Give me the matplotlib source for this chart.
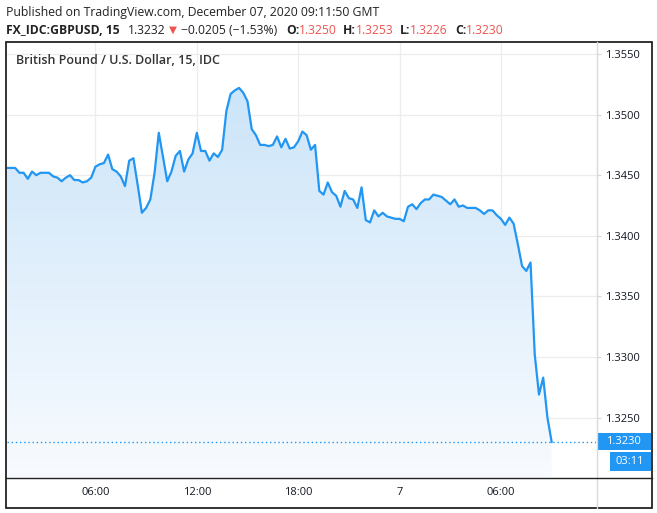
import matplotlib
matplotlib.use("Agg")
import matplotlib.pyplot as plt
import numpy as np
from matplotlib.patches import Rectangle, Polygon
from matplotlib.lines import Line2D

plt.rcParams['font.family'] = ['Open Sans', 'DejaVu Sans']

# ---- data (15-minute closes, GBP/USD) ----
closes = [
    1.3456, 1.3456, 1.3456, 1.3452, 1.3452, 1.3447, 1.3453, 1.3450, 1.3452, 1.3452,
    1.3452, 1.3449, 1.3448, 1.3445, 1.3448, 1.3450, 1.3446, 1.3446, 1.3444, 1.3445,
    1.3448, 1.3457, 1.3459, 1.3460, 1.3467, 1.3455, 1.3453, 1.3449, 1.3441, 1.3462,
    1.3464, 1.3442, 1.3419, 1.3423, 1.3430, 1.3452, 1.3485, 1.3465, 1.3445, 1.3453,
    1.3466, 1.3470, 1.3453, 1.3463, 1.3468, 1.3485, 1.3470, 1.3470, 1.3462, 1.3468,
    1.3465, 1.3471, 1.3503, 1.3517, 1.3520, 1.3522, 1.3518, 1.3511, 1.3488, 1.3483,
    1.3475, 1.3475, 1.3474, 1.3475, 1.3482, 1.3473, 1.3480, 1.3472, 1.3473, 1.3478,
    1.3486, 1.3483, 1.3471, 1.3475, 1.3437, 1.3434, 1.3444, 1.3436, 1.3433, 1.3424,
    1.3437, 1.3431, 1.3430, 1.3423, 1.3440, 1.3413, 1.3411, 1.3421, 1.3416, 1.3419,
    1.3416, 1.3415, 1.3414, 1.3414, 1.3412, 1.3424, 1.3426, 1.3422, 1.3427, 1.3430,
    1.3430, 1.3434, 1.3433, 1.3432, 1.3429, 1.3426, 1.3430, 1.3424, 1.3425, 1.3423,
    1.3423, 1.3423, 1.3421, 1.3418, 1.3421, 1.3421, 1.3417, 1.3414, 1.3409, 1.3415,
    1.3410, 1.3393, 1.3375, 1.3371, 1.3378, 1.3302, 1.3269, 1.3283, 1.3250, 1.3230,
]
time_tick_bars = [21, 45, 69, 93, 117]
time_tick_labels = ["06:00", "12:00", "18:00", "7", "06:00"]
price_ticks = [1.3250, 1.3300, 1.3350, 1.3400, 1.3450, 1.3500, 1.3550]
last_price = 1.3230
countdown = "03:11"

W, H = 657, 513
LINE = '#2196f3'
TXT = '#131722'
RED = '#ef5350'

fig = plt.figure(figsize=(W / 100, H / 100), dpi=100)
fig.patch.set_facecolor('white')

def fx(px):
    return px / W

def fy(py):
    return 1 - py / H

L, R, T, B = 6.5, 596.0, 42.0, 477.0
ax = fig.add_axes([fx(L), fy(B), fx(R - L), (B - T) / H])
ax.set_facecolor('white')
for s in ax.spines.values():
    s.set_visible(False)

x = np.arange(len(closes))
y = np.array(closes)
ax.set_xlim(-0.05, 139.5)
ax.set_ylim(1.320099, 1.35599)

# grid
for p in price_ticks:
    ax.axhline(p, color='#ececec', lw=0.9, zorder=0)
for b in time_tick_bars:
    ax.axvline(b, color='#ececec', lw=0.9, zorder=0)

# gradient fill under line
ymin_ax = ax.get_ylim()[0]
top = y.max()
grad = np.linspace(0, 1, 256).reshape(-1, 1)
c_top = np.array([0.80, 0.898, 0.976])
c_bot = np.array([0.972, 0.984, 0.998])
img = c_bot[None, None, :] * (1 - grad[..., None]) + c_top[None, None, :] * grad[..., None]
im = ax.imshow(img, extent=[x[0], x[-1], ymin_ax, top], origin='lower',
               aspect='auto', zorder=1, interpolation='bilinear')
verts = np.vstack([np.column_stack([x, y]), [[x[-1], ymin_ax], [x[0], ymin_ax]]])
poly = Polygon(verts, closed=True, facecolor='none', edgecolor='none')
ax.add_patch(poly)
im.set_clip_path(poly)

ax.plot(x, y, color=LINE, lw=1.6, zorder=3, solid_joinstyle='round')
ax.axhline(last_price, color=LINE, lw=1.0, ls=(0, (1, 2)), zorder=2)

ax.set_xlim(-0.05, 139.5)
ax.set_ylim(1.320099, 1.35599)

# ticks
ax.yaxis.tick_right()
ax.set_yticks(price_ticks)
ax.set_yticklabels([f"{p:.4f}" for p in price_ticks])
ax.tick_params(axis='y', which='both', right=True, left=False, labelright=True,
               labelleft=False, length=3.5, width=0.8, color='#d6d6d6',
               labelsize=8, labelcolor=TXT, pad=3)
ax.set_xticks(time_tick_bars)
ax.set_xticklabels(time_tick_labels)
ax.tick_params(axis='x', length=0, labelsize=8, labelcolor=TXT, pad=7.5)

# frame and separators
fig.add_artist(Rectangle((fx(6), fy(507.5)), fx(651.5 - 6), (507.5 - 42) / H,
                         transform=fig.transFigure, fill=False, edgecolor='#111111', lw=1.2))
fig.add_artist(Line2D([fx(596.5), fx(596.5)], [fy(42), fy(507.5)],
                      transform=fig.transFigure, color='#dadada', lw=1.0))
fig.add_artist(Line2D([fx(6), fx(651.5)], [fy(477.5), fy(477.5)],
                      transform=fig.transFigure, color='#222222', lw=1.0))

# current price labels
fig.add_artist(Rectangle((fx(597), fy(449.5)), fx(651 - 597), 16.5 / H,
                         transform=fig.transFigure, facecolor=LINE, edgecolor='none'))
fig.text(fx(623.5), fy(441.3), f"{last_price:.4f}", color='white', fontsize=8,
         ha='center', va='center')
fig.add_artist(Rectangle((fx(610), fy(471)), fx(650.5 - 610), 19.5 / H,
                         transform=fig.transFigure, facecolor=LINE, edgecolor='none'))
fig.text(fx(630), fy(461.5), countdown, color='white', fontsize=8,
         ha='center', va='center')

# header texts
fig.text(fx(6), fy(12.5), "Published on TradingView.com, December 07, 2020 09:11:50 GMT",
         fontsize=8.85, color='#222222', ha='left', va='center')
hy = fy(30)
pieces = [
    ("FX_IDC:GBPUSD, 15", 6, 'bold', '#222222', 8.7),
    ("1.3232", 128, 'normal', '#222222', 8.7),
    ("\u25BC", 169, 'normal', RED, 7.5),
    ("\u22120.0205 (\u22121.53%)", 181, 'normal', '#222222', 8.7),
    ("O:", 286, 'bold', '#222222', 8.7),
    ("1.3250", 299, 'normal', RED, 8.7),
    ("H:", 343, 'bold', '#222222', 8.7),
    ("1.3253", 356, 'normal', RED, 8.7),
    ("L:", 400, 'bold', '#222222', 8.7),
    ("1.3226", 410, 'normal', RED, 8.7),
    ("C:", 455, 'bold', '#222222', 8.7),
    ("1.3230", 466, 'normal', RED, 8.7),
]
for txt, px, wt, col, fs in pieces:
    fig.text(fx(px), hy, txt, fontsize=fs, fontweight=wt, color=col,
             ha='left', va='center', family=['Open Sans', 'DejaVu Sans'])

fig.text(fx(16), fy(61), "British Pound / U.S. Dollar, 15, IDC", fontsize=9,
         fontweight='semibold', color='#333333', ha='left', va='center')

fig.savefig("out.png", dpi=100, facecolor='white')
